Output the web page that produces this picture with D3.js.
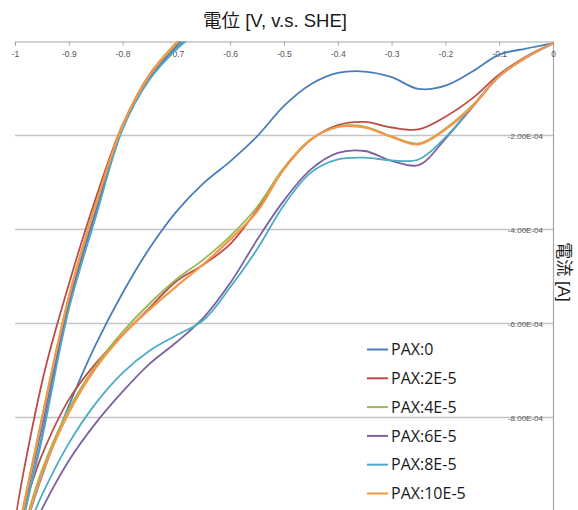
<!DOCTYPE html>
<html>
<head>
<meta charset="utf-8">
<script src="https://cdn.jsdelivr.net/npm/d3@7"></script>
<style>
  html, body { margin: 0; padding: 0; background: #fff; }
  svg { display: block; }
</style>
</head>
<body>
<svg id="chart" width="578" height="510"></svg>
<script>
// ---------- data (potential in V vs SHE, current in A) ----------
const seriesNames = ["PAX:0", "PAX:2E-5", "PAX:4E-5", "PAX:6E-5", "PAX:8E-5", "PAX:10E-5"];
const seriesColors = ["#4a7ebb", "#be4b48", "#98b954", "#7d60a0", "#4bacc6", "#f79646"];

// forward sweep 0 -> -1 V
const potentialFwd = [0, -0.05, -0.1, -0.15, -0.2, -0.25, -0.3, -0.35, -0.4, -0.45, -0.5,
                      -0.55, -0.6, -0.65, -0.7, -0.75, -0.8, -0.85, -0.9, -0.95, -1.0];
// reverse sweep -1 -> -0.65 V
const potentialRev = [-1.0, -0.95, -0.9, -0.85, -0.8, -0.75, -0.7, -0.65];

// currents in units of 1E-4 A
const pax0Fwd  = [-0.04, -0.15, -0.28, -0.64, -0.94, -1.01, -0.76, -0.64, -0.67, -0.91, -1.37,
                  -2.02, -2.55, -3.02, -3.62, -4.40, -5.35, -6.45, -7.75, -9.25, -10.95];
const pax2Fwd  = [-0.04, -0.32, -0.70, -1.21, -1.60, -1.87, -1.83, -1.71, -1.78, -2.09, -2.71,
                  -3.58, -4.31, -4.75, -5.10, -5.67, -6.24, -6.85, -7.62, -8.80, -10.4];
const pax4Fwd  = [-0.04, -0.33, -0.73, -1.36, -1.85, -2.17, -2.02, -1.81, -1.81, -2.08, -2.68,
                  -3.52, -4.14, -4.64, -5.06, -5.58, -6.18, -6.90, -7.82, -9.12, -10.9];
const pax6Fwd  = [-0.04, -0.34, -0.74, -1.40, -2.07, -2.63, -2.54, -2.33, -2.37, -2.72, -3.38,
                  -4.22, -5.14, -5.88, -6.40, -6.86, -7.45, -8.12, -8.92, -9.95, -11.2];
const pax8Fwd  = [-0.04, -0.34, -0.74, -1.38, -2.04, -2.51, -2.53, -2.47, -2.51, -2.79, -3.48,
                  -4.42, -5.23, -5.93, -6.25, -6.58, -7.05, -7.70, -8.55, -9.65, -11.0];
const pax10Fwd = [-0.04, -0.34, -0.74, -1.38, -1.87, -2.19, -2.03, -1.83, -1.82, -2.09, -2.71,
                  -3.62, -4.21, -4.74, -5.21, -5.70, -6.25, -6.95, -7.90, -9.20, -11.0];

const pax0Rev  = [-10.95, -8.20, -5.55, -3.60, -1.84, -0.77, -0.10, 0.4];
const pax2Rev  = [-10.4, -7.26, -5.17, -3.34, -1.77, -0.70, -0.04, 0.5];
const pax4Rev  = [-10.9, -8.00, -5.42, -3.46, -1.80, -0.73, -0.05, 0.5];
const pax6Rev  = [-11.2, -8.40, -5.65, -3.70, -1.85, -0.80, -0.15, 0.3];
const pax8Rev  = [-11.0, -8.47, -5.70, -3.74, -1.87, -0.81, -0.17, 0.3];
const pax10Rev = [-11.0, -8.04, -5.45, -3.49, -1.79, -0.72, -0.02, 0.5];

const xTickValues = [-1, -0.9, -0.8, -0.7, -0.6, -0.5, -0.4, -0.3, -0.2, -0.1, 0];
const xTickLabels = ["-1", "-0.9", "-0.8", "-0.7", "-0.6", "-0.5", "-0.4", "-0.3", "-0.2", "-0.1", "0"];
const yTickValues = [0, -2e-4, -4e-4, -6e-4, -8e-4, -1e-3];
const yTickLabels = ["0.00E+00", "-2.00E-04", "-4.00E-04", "-6.00E-04", "-8.00E-04", "-1.00E-03"];

const xTitle = "電位 [V, v.s. SHE]";
const yTitle = "電流 [A]";

// ---------- build ----------
const fwdSets = [pax0Fwd, pax2Fwd, pax4Fwd, pax6Fwd, pax8Fwd, pax10Fwd];
const revSets = [pax0Rev, pax2Rev, pax4Rev, pax6Rev, pax8Rev, pax10Rev];
const series = seriesNames.map((name, i) => ({
  name,
  color: seriesColors[i],
  points: potentialFwd.map((v, k) => [v, fwdSets[i][k] * 1e-4])
    .concat(potentialRev.slice(1).map((v, k) => [v, revSets[i][k + 1] * 1e-4]))
}));

const svg = d3.select("#chart");
const plotLeft = 15, plotRight = 553, plotTop = 41.5, plotBottom = 510;

const x = d3.scaleLinear().domain([-1, 0]).range([plotLeft, plotRight]);
const y = d3.scaleLinear().domain([-1e-3, 0]).range([511.5, plotTop]);

const FONT = "'Liberation Sans', Arial, sans-serif";
const TITLEFONT = "'Liberation Sans', 'Noto Sans CJK JP', 'Noto Sans CJK SC', sans-serif";

// gridlines
svg.append("g")
  .selectAll("line")
  .data(yTickValues.filter(v => v !== 0))
  .join("line")
  .attr("x1", plotLeft).attr("x2", plotRight)
  .attr("y1", d => y(d)).attr("y2", d => y(d))
  .attr("stroke", "#c4c4c4").attr("stroke-width", 1.6);

// clip for plot lines
const defs = svg.append("defs");
defs.append("clipPath").attr("id", "plotclip")
  .append("rect").attr("x", plotLeft).attr("y", plotTop)
  .attr("width", plotRight - plotLeft).attr("height", plotBottom - plotTop);
defs.append("clipPath").attr("id", "zeroclip")
  .append("rect").attr("x", 0).attr("y", plotTop + 1.5)
  .attr("width", 578).attr("height", 20);

// right-hand y axis (labels inside, left of the line)
const yAxis = d3.axisLeft(y)
  .tickValues(yTickValues)
  .tickSize(0)
  .tickPadding(10)
  .tickFormat((d, i) => yTickLabels[i]);
const gy = svg.append("g").attr("transform", `translate(${plotRight},0)`).call(yAxis);
gy.select(".domain").attr("stroke", "#a6a6a6").attr("stroke-width", 1.2);
gy.selectAll("text").attr("font-family", FONT).attr("font-size", 8).attr("fill", "#555");
gy.selectAll(".tick").filter(d => d === 0).attr("clip-path", "url(#zeroclip)");

// top x axis (ticks and labels hanging below the line)
const xAxis = d3.axisBottom(x)
  .tickValues(xTickValues)
  .tickSize(4)
  .tickPadding(5)
  .tickFormat((d, i) => xTickLabels[i]);
const gx = svg.append("g").attr("transform", `translate(0,${plotTop})`).call(xAxis);
gx.select(".domain").attr("stroke", "#a6a6a6").attr("stroke-width", 1.2);
gx.selectAll(".tick line").attr("stroke", "#a6a6a6");
gx.selectAll("text").attr("font-family", FONT).attr("font-size", 8.5).attr("fill", "#555");

// lines
const line = d3.line()
  .x(d => x(d[0]))
  .y(d => y(d[1]))
  .curve(d3.curveCatmullRom.alpha(0.5));

svg.append("g").attr("clip-path", "url(#plotclip)")
  .selectAll("path")
  .data(series)
  .join("path")
  .attr("d", d => line(d.points))
  .attr("fill", "none")
  .attr("stroke", d => d.color)
  .attr("stroke-width", (d, i) => i === 5 ? 2.2 : 1.8)
  .attr("stroke-linejoin", "round");

// titles
svg.append("text")
  .attr("x", 275).attr("y", 27)
  .attr("text-anchor", "middle")
  .attr("font-family", TITLEFONT).attr("font-size", 18.5).attr("fill", "#1a1a1a")
  .text(xTitle);

svg.append("text")
  .attr("transform", "translate(558,272) rotate(90)")
  .attr("text-anchor", "middle")
  .attr("font-family", TITLEFONT).attr("font-size", 17).attr("fill", "#1a1a1a")
  .text(yTitle);

// legend
const legend = svg.append("g");
const lg = legend.selectAll("g")
  .data(series)
  .join("g")
  .attr("transform", (d, i) => `translate(367,${349.5 + i * 28.8})`);
lg.append("line")
  .attr("x1", 0).attr("x2", 21).attr("y1", 0).attr("y2", 0)
  .attr("stroke", d => d.color).attr("stroke-width", 2);
lg.append("text")
  .attr("x", 24).attr("y", 0).attr("dy", "0.36em")
  .attr("font-family", "'Open Sans', sans-serif").attr("font-size", 16)
  .attr("fill", "#1a1a1a")
  .text(d => d.name);
</script>
</body>
</html>
